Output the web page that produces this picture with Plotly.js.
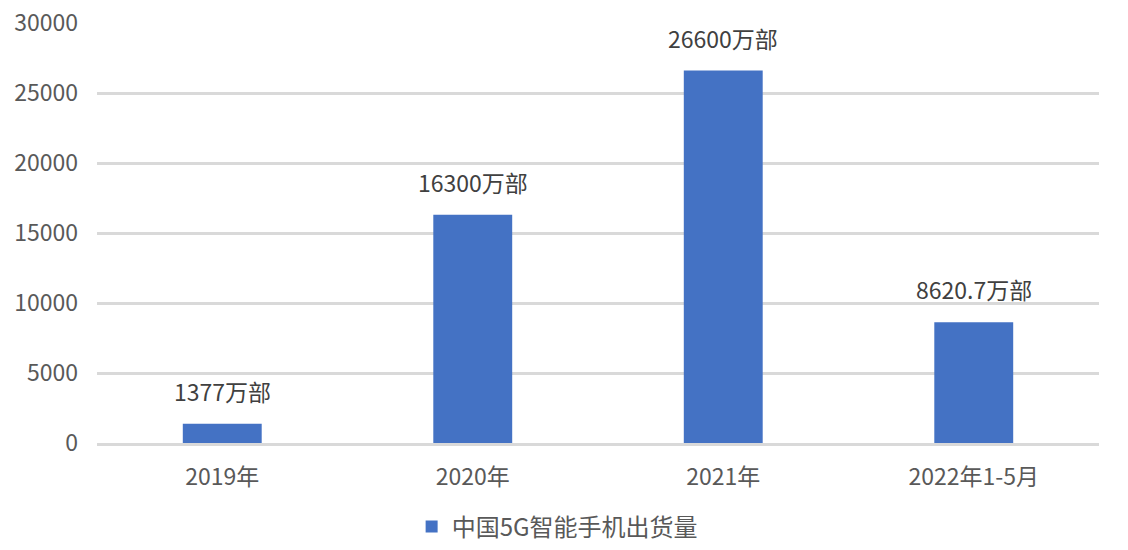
<!DOCTYPE html>
<html>
<head>
<meta charset="utf-8">
<script src="https://cdn.plot.ly/plotly-3.0.1.min.js"></script>
<style>
  html, body { margin: 0; padding: 0; background: #fff; }
  #chart { width: 1128px; height: 550px; }
</style>
</head>
<body>
<div id="chart"></div>
<script>
const categories = ["2019年", "2020年", "2021年", "2022年1-5月"];
const shipments = [1377, 16300, 26600, 8620.7];
const labels = ["1377万部", "16300万部", "26600万部", "8620.7万部"];
const seriesName = "中国5G智能手机出货量";

const font = "Noto Sans CJK SC, sans-serif";
const grey = "#595959";

const trace = {
  type: "bar",
  x: categories,
  y: shipments,
  name: seriesName,
  marker: { color: "#4472C4" },
  hoverinfo: "none",
};

const notes = categories.map((c, i) => ({
  x: c,
  y: shipments[i],
  text: labels[i],
  showarrow: false,
  yanchor: "bottom",
  yshift: 14,
  font: { family: font, size: 23, color: "#404040" },
}));

const layout = {
  width: 1128,
  height: 550,
  margin: { l: 97, r: 29, t: 23, b: 107, autoexpand: false },
  paper_bgcolor: "#fff",
  plot_bgcolor: "#fff",
  font: { family: font, size: 23, color: grey },
  bargap: 0.685,
  showlegend: true,
  legend: {
    orientation: "h",
    x: 0.314,
    xanchor: "left",
    y: -0.2,
    yanchor: "middle",
    font: { family: font, size: 24, color: grey },
  },
  xaxis: {
    type: "category",
    showgrid: false,
    showline: true,
    linecolor: "#d9d9d9",
    linewidth: 3,
    ticks: "",
    ticklabelstandoff: 11,
    automargin: false,
    fixedrange: true,
  },
  yaxis: {
    range: [0, 30000],
    dtick: 5000,
    tickformat: "d",
    showgrid: true,
    gridcolor: "#d9d9d9",
    gridwidth: 3,
    zeroline: false,
    showline: false,
    ticks: "",
    ticklabelstandoff: 18,
    automargin: false,
    fixedrange: true,
  },
  annotations: notes,
};

Plotly.newPlot("chart", [trace], layout, { displayModeBar: false, staticPlot: true });
</script>
</body>
</html>
